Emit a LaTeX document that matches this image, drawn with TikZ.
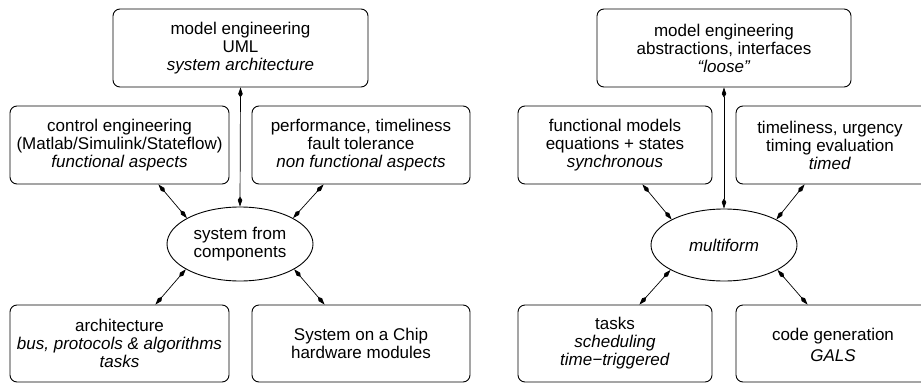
\documentclass[tikz,border=0pt]{standalone}
\usepackage{fontspec}
\setmainfont{Liberation Sans}
\usetikzlibrary{shapes.geometric,arrows.meta,calc}
\begin{document}
\begin{tikzpicture}[x=1pt,y=-1pt,
  txt/.style={font=\fontsize{17}{18}\selectfont, align=center, inner sep=0pt},
  box/.style={txt, draw, rounded corners=7pt, line width=0.9pt},
  ell/.style={txt, draw, ellipse, line width=0.9pt, minimum width=146pt, minimum height=74pt},
  tipk/.tip={Kite[length=10pt,width=4.5pt,inset=3.5pt]},
  arr/.style={tipk-tipk, line width=0.7pt}]
\useasboundingbox (0,0) rectangle (921,383);
\clip (0,0) rectangle (921,383);
% ---------- left panel ----------
\node[box, minimum width=255pt, minimum height=78pt] (ltop) at (240.5,48)
  {model engineering\\UML\\\textit{system architecture}};
\node[box, minimum width=219pt, minimum height=78pt] (lctrl) at (119.5,145)
  {control engineering\\(Matlab/Simulink/Stateflow)\\\textit{functional aspects}};
\node[box, minimum width=218pt, minimum height=78pt] (lperf) at (361,145)
  {performance, timeliness\\fault tolerance\\\textit{non functional aspects}};
\node[box, minimum width=219pt, minimum height=77pt] (larch) at (119.5,343.5)
  {architecture\\\textit{bus, protocols \& algorithms}\\\textit{tasks}};
\node[box, minimum width=218pt, minimum height=77pt] (lsoc) at (361,343.5)
  {System on a Chip\\hardware modules};
\node[ell] (lell) at (240,244) {system from\\components};
\draw[arr] (ltop.south) -- (lell.north);
\draw[arr] ($(lctrl.south east)+(-71,0)$) -- (lell.154);
\draw[arr] ($(lperf.south west)+(72,0)$) -- (lell.26);
\draw[arr] ($(larch.north east)+(-74,0)$) -- (lell.205);
\draw[arr] ($(lsoc.north west)+(73,0)$) -- (lell.335);
% ---------- right panel ----------
\node[box, minimum width=254pt, minimum height=78pt] (rtop) at (724,48)
  {model engineering\\abstractions, interfaces\\\textit{“loose”}};
\node[box, minimum width=194pt, minimum height=78pt] (rfunc) at (615,145)
  {functional models\\equations + states\\\textit{synchronous}};
\node[box, minimum width=194pt, minimum height=78pt] (rtime) at (833,145) {};
\node[txt] at (830,145) {timeliness, urgency\\timing evaluation\\\textit{timed}};
\node[box, minimum width=194pt, minimum height=77pt] (rtask) at (615,343.5)
  {tasks\\\textit{scheduling}\\\textit{time−triggered}};
\node[box, minimum width=194pt, minimum height=77pt] (rcode) at (833,343.5) {};
\node[txt] at (833,345) {code generation\\[3pt]\textit{GALS}};
\node[ell, minimum height=72pt] (rell) at (724,245) {\textit{multiform}};
\draw[arr] (rtop.south) -- (rell.north);
\draw[arr] ($(rfunc.south east)+(-70,0)$) -- (rell.154);
\draw[arr] ($(rtime.south west)+(69,0)$) -- (rell.26);
\draw[arr] ($(rtask.north east)+(-73,0)$) -- (rell.205);
\draw[arr] ($(rcode.north west)+(72,0)$) -- (rell.335);
\end{tikzpicture}
\end{document}
